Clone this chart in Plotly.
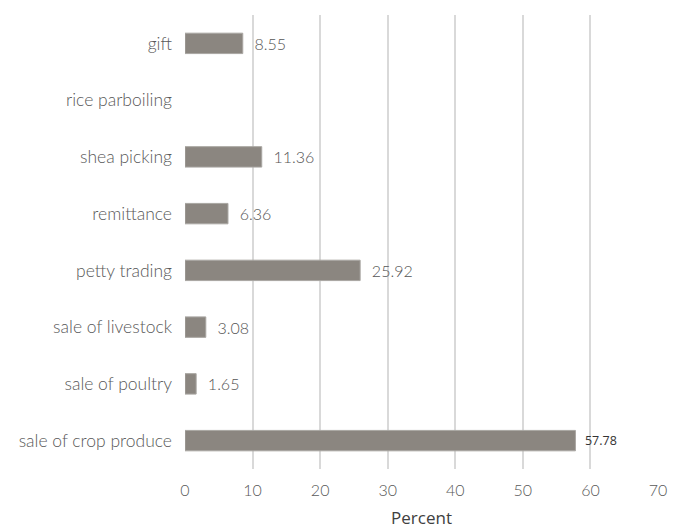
import plotly.graph_objects as go

categories = ["sale of crop produce", "sale of poultry", "sale of livestock",
              "petty trading", "remittance", "shea picking", "rice parboiling", "gift"]
values = [57.78, 1.65, 3.08, 25.92, 6.36, 11.36, None, 8.55]
labels = ["57.78", "1.65", "3.08", "25.92", "6.36", "11.36", "", "8.55"]
x_ticks = [0, 10, 20, 30, 40, 50, 60, 70]

GRAY = "#595959"

fig = go.Figure(go.Bar(
    y=categories, x=values, orientation="h",
    marker=dict(color="#8b8680", line=dict(color="#a9a6a2", width=1)),
    width=0.36,
    text=["  " + t for t in labels], textposition="outside",
    textfont=dict(
        family=["Open Sans"] + ["Lato"] * 7,
        size=[12.5] + [16] * 7,
        color=["#333333"] + ["#555555"] * 7,
        weight=[400] + [300] * 7,
    ),
    cliponaxis=False,
))

fig.update_layout(
    width=681, height=530,
    margin=dict(l=185, r=23, t=15, b=61),
    plot_bgcolor="white", paper_bgcolor="white",
    showlegend=False,
    font=dict(family="Lato", color=GRAY, size=16),
)
fig.update_xaxes(
    range=[0, 70], tickvals=x_ticks, ticktext=[str(v) for v in x_ticks],
    showgrid=True, gridcolor="#d9d9d9", gridwidth=2,
    zeroline=False, showline=False, automargin=False,
    tickfont=dict(family="Lato", size=16, color=GRAY, weight=300),
    title=dict(text="Percent", font=dict(family="Open Sans", size=17, color="#404040"), standoff=14),
    ticks="", ticklabelstandoff=10,
)
fig.update_yaxes(
    categoryorder="array", categoryarray=categories,
    showgrid=False, zeroline=False, showline=False, automargin=False,
    tickfont=dict(family="Lato", size=17.5, color=GRAY, weight=300),
    ticks="", ticklabelstandoff=12,
)

fig.write_html("out.html")
